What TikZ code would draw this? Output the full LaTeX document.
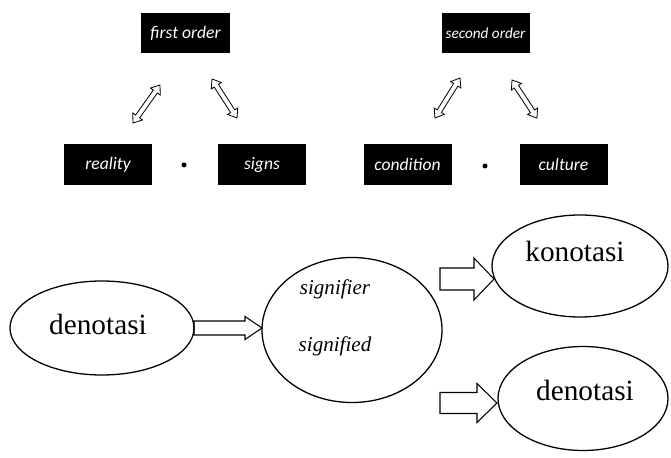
\documentclass[tikz,border=0pt]{standalone}
\usepackage{fontspec}
\setmainfont{Liberation Serif}
\newfontfamily\boxfont{Carlito}
\usetikzlibrary{shapes.geometric}

% seta de bloco: inicio, angulo, comprimento, meia haste, meia cabeca, comprimento da cabeca
\newcommand{\blockarr}[6]{%
  \begin{scope}[shift={(#1)}, rotate=#2]
    \draw [blockline] (0,#4) -- ({#3-#6},#4) -- ({#3-#6},#5) -- (#3,0)
      -- ({#3-#6},-#5) -- ({#3-#6},-#4) -- (0,-#4) -- cycle;
  \end{scope}}
% seta dupla
\newcommand{\dblarr}[6]{%
  \begin{scope}[shift={(#1)}, rotate=#2]
    \draw [dblline] (0,0) -- (#6,#5) -- (#6,#4) -- ({#3-#6},#4) -- ({#3-#6},#5) -- (#3,0)
      -- ({#3-#6},-#5) -- ({#3-#6},-#4) -- (#6,-#4) -- (#6,-#5) -- cycle;
  \end{scope}}

\begin{document}
\begin{tikzpicture}[x=0.03cm, y=-0.03cm]
\tikzset{ >=latex, inner sep=0pt, outer sep=0pt,
  blackbox/.style={fill=black, text=white, minimum width=2.64cm, minimum height=1.22cm,
    font=\boxfont\itshape\fontsize{15}{17}\selectfont},
  oval/.style={draw, line width=1.1pt, ellipse},
  blockline/.style={line width=0.9pt, line join=miter},
  dblline/.style={line width=0.7pt, line join=miter},
  sep/.style={fill=black, circle, minimum size=0.15cm},
}

\useasboundingbox (0,0) rectangle (671,458);

%%% Blocos de cima

% first order
\node [blackbox] (FO) at (185.5,33) {first order};
\node [blackbox] (RE) at (108,164.5) {reality};
\node [blackbox] (SI) at (262,164.5) {signs};
\node [sep] (D1) at (184,165) {};

% second order
\node [blackbox, font=\boxfont\itshape\fontsize{13}{15}\selectfont] (SO) at (485.5,33) {second order};
\node [blackbox] (CO) at (407.5,164.5) {condition};
\node [blackbox] (CU) at (563.5,164.5) {culture};
\node [sep] (D2) at (485,166) {};

%%% Elipses

\node [oval, minimum width=5.52cm, minimum height=2.82cm] (DEN) at (102,328) {};
\node [font=\fontsize{25}{30}\selectfont] (DENt) at (98,324) {denotasi};

\node [oval, minimum width=5.4cm, minimum height=4.35cm] (SIG) at (352,330) {};
\node [font=\itshape\fontsize{18}{22}\selectfont] (SIGa) at (335,289) {signifier};
\node [font=\itshape\fontsize{18}{22}\selectfont] (SIGb) at (335,346) {signified};

\node [oval, minimum width=5.28cm, minimum height=3.06cm] (KON) at (580,266) {};
\node [font=\fontsize{25}{30}\selectfont] (KONt) at (575,251) {konotasi};

\node [oval, minimum width=5.1cm, minimum height=3.12cm] (DEN2) at (583,398.5) {};
\node [font=\fontsize{25}{30}\selectfont] (DEN2t) at (585,390) {denotasi};

%%% Setas

% setas duplas
\coordinate (a1) at (133,123);
\coordinate (b1) at (212,79);
\coordinate (c1) at (435,118);
\coordinate (d1) at (512,80);
\dblarr{a1}{54.6}{46.6}{2.5}{6}{8}
\dblarr{b1}{-57.3}{46.3}{2.5}{6}{8}
\dblarr{c1}{58}{47.2}{2.5}{6}{8}
\dblarr{d1}{-56.7}{45.5}{2.5}{6}{8}

% denotasi -> signifier
\blockarr{DEN.east}{0}{68}{7}{11.5}{17}

% signifier -> konotasi
\coordinate (k0) at (440,279);
\blockarr{k0}{0}{54}{11}{21}{20}

% signifier -> denotasi
\coordinate (k1) at (440,403);
\blockarr{k1}{0}{57}{10.5}{19.5}{20}

\end{tikzpicture}
\end{document}
